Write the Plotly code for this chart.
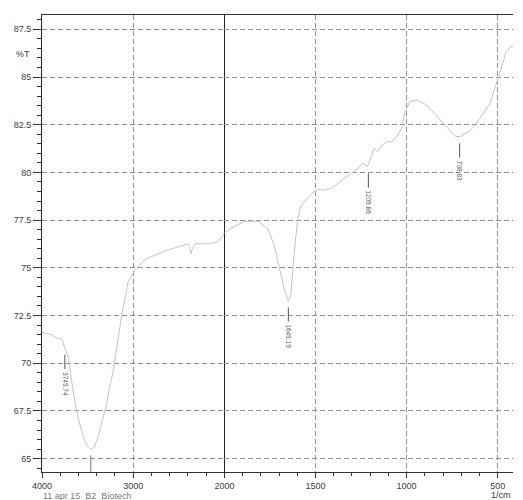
import plotly.graph_objects as go
from plotly.subplots import make_subplots

# Spectrum data (wavenumber 1/cm, %T)
wavenumber = [4000, 3900, 3850, 3786, 3770, 3751, 3715, 3661, 3608, 3537, 3500, 3465, 3430,
              3394, 3305, 3216, 3127, 3056, 2984, 2859, 2645, 2431, 2396, 2380, 2367, 2350,
              2324, 2182, 2075, 2030, 1993, 1950, 1887, 1816, 1762, 1726, 1699, 1672, 1651,
              1636, 1618, 1600, 1582, 1547, 1511, 1484, 1457, 1412, 1367, 1313, 1269, 1242,
              1215, 1197, 1179, 1161, 1134, 1108, 1081, 1054, 1027, 1009, 982, 946, 901, 847,
              793, 731, 704, 650, 597, 543, 507, 480, 453, 426, 410]
transmittance = [71.62, 71.5, 71.35, 71.26, 71.1, 70.8, 70.38, 68.6, 67.2, 66.0, 65.65, 65.47, 65.6,
                 66.0, 67.6, 69.7, 72.5, 74.25, 74.86, 75.47, 75.9, 76.2, 76.26, 76.1, 75.74, 76.0,
                 76.26, 76.26, 76.35, 76.6, 76.88, 77.15, 77.44, 77.44, 77.05, 76.17, 74.95, 73.9, 73.28,
                 73.54, 75.65, 77.4, 78.2, 78.63, 78.98, 79.12, 79.07, 79.16, 79.5, 79.86, 80.2, 80.47,
                 80.3, 80.74, 81.26, 81.1, 81.44, 81.6, 81.6, 81.88, 82.3, 83.2, 83.7, 83.8, 83.6, 83.1,
                 82.5, 81.88, 81.88, 82.2, 82.84, 83.6, 84.6, 85.47, 86.35, 86.6, 86.6]

# Peak labels
peak_wn = [3749.74, 1649.19, 1209.86, 708.83]
peak_t = [70.8, 73.28, 80.3, 81.88]
peak_text = ["3749.74", "1649.19", "1209.86", "708.83"]
clipped_peak_wn = 3465
clipped_peak_t = 65.47

y_ticks = [65, 67.5, 70, 72.5, 75, 77.5, 80, 82.5, 85, 87.5]
y_ticktext = ["65", "67.5", "70", "72.5", "75", "77.5", "80", "82.5", "85", "87.5"]
x_ticks_left = [4000, 3000, 2000]
x_ticks_right = [1500, 1000, 500]

FONT = "Liberation Sans, Arial, sans-serif"
TICKCOL = "#3a3a4a"
GRID = "#909090"
DASH = "5px,3px"

fig = make_subplots(rows=1, cols=2, shared_yaxes=True, horizontal_spacing=0,
                    column_widths=[0.3873, 0.6127])

for col in (1, 2):
    fig.add_trace(go.Scatter(x=wavenumber, y=transmittance, mode="lines",
                             line=dict(color="#c4c4c4", width=1), showlegend=False,
                             hoverinfo="skip"), row=1, col=col)

# peak marker lines and labels
for wn, t, txt in zip(peak_wn, peak_t, peak_text):
    col = 1 if wn >= 2000 else 2
    fig.add_trace(go.Scatter(x=[wn, wn], y=[t - 0.35, t - 1.1], mode="lines",
                             line=dict(color="#555555", width=1), showlegend=False,
                             hoverinfo="skip"), row=1, col=col)
    fig.add_annotation(x=wn, y=t - 1.15, xref="x" if col == 1 else "x2", yref="y",
                       text=txt, textangle=90, showarrow=False, yanchor="top",
                       font=dict(family=FONT, size=6.5, color="#556070"))

fig.add_trace(go.Scatter(x=[clipped_peak_wn, clipped_peak_wn],
                         y=[clipped_peak_t - 0.3, 64.3], mode="lines",
                         line=dict(color="#777777", width=1), showlegend=False,
                         hoverinfo="skip"), row=1, col=1)

common_x = dict(ticks="outside", ticklen=5, tickcolor="#333", tickwidth=1,
                showline=True, linecolor="#333", linewidth=1, mirror=True,
                showgrid=True, gridcolor=GRID, griddash=DASH, gridwidth=1,
                zeroline=False, ticklabelstandoff=0,
                tickfont=dict(family=FONT, size=9, color=TICKCOL))

fig.update_xaxes(range=[4000, 2000], tickvals=x_ticks_left,
                 minor=dict(dtick=200, ticklen=3, ticks="outside", tickcolor="#333", showgrid=False),
                 row=1, col=1, **common_x)
fig.update_xaxes(range=[2000, 416], tickvals=x_ticks_right,
                 minor=dict(dtick=100, ticklen=3, ticks="outside", tickcolor="#333", showgrid=False),
                 row=1, col=2, **common_x)

fig.update_yaxes(range=[64.3, 88.25], tickvals=y_ticks, ticktext=y_ticktext,
                 ticks="outside", ticklen=8, tickcolor="#333",
                 showline=True, linecolor="#222", linewidth=1, mirror=True,
                 showgrid=True, gridcolor=GRID, griddash=DASH, zeroline=False,
                 minor=dict(dtick=0.5, ticklen=4, ticks="outside", tickcolor="#333", showgrid=False),
                 tickfont=dict(family=FONT, size=9, color=TICKCOL),
                 row=1, col=1)
fig.update_yaxes(range=[64.3, 88.25], tickvals=y_ticks, showticklabels=False, ticks="",
                 showline=False, showgrid=True, gridcolor=GRID, griddash=DASH, zeroline=False,
                 row=1, col=2)

fig.add_annotation(xref="paper", yref="y", x=-0.021, y=86.2, text="%T", showarrow=False,
                   xanchor="right", font=dict(family=FONT, size=9, color=TICKCOL))
fig.add_annotation(xref="paper", yref="paper", x=1.0, y=-0.05, text="1/cm", showarrow=False,
                   xanchor="right", yanchor="middle", font=dict(family=FONT, size=9, color=TICKCOL))
fig.add_annotation(xref="paper", yref="paper", x=-0.002, y=-0.053, text="11 apr 15  B2  Biotech",
                   showarrow=False, xanchor="left", yanchor="middle",
                   font=dict(family=FONT, size=9, color="#7a7a7a"))

fig.update_layout(width=523, height=500, margin=dict(l=42, r=0, t=15, b=28),
                  plot_bgcolor="white", paper_bgcolor="white", showlegend=False)

fig.write_html("out.html")
